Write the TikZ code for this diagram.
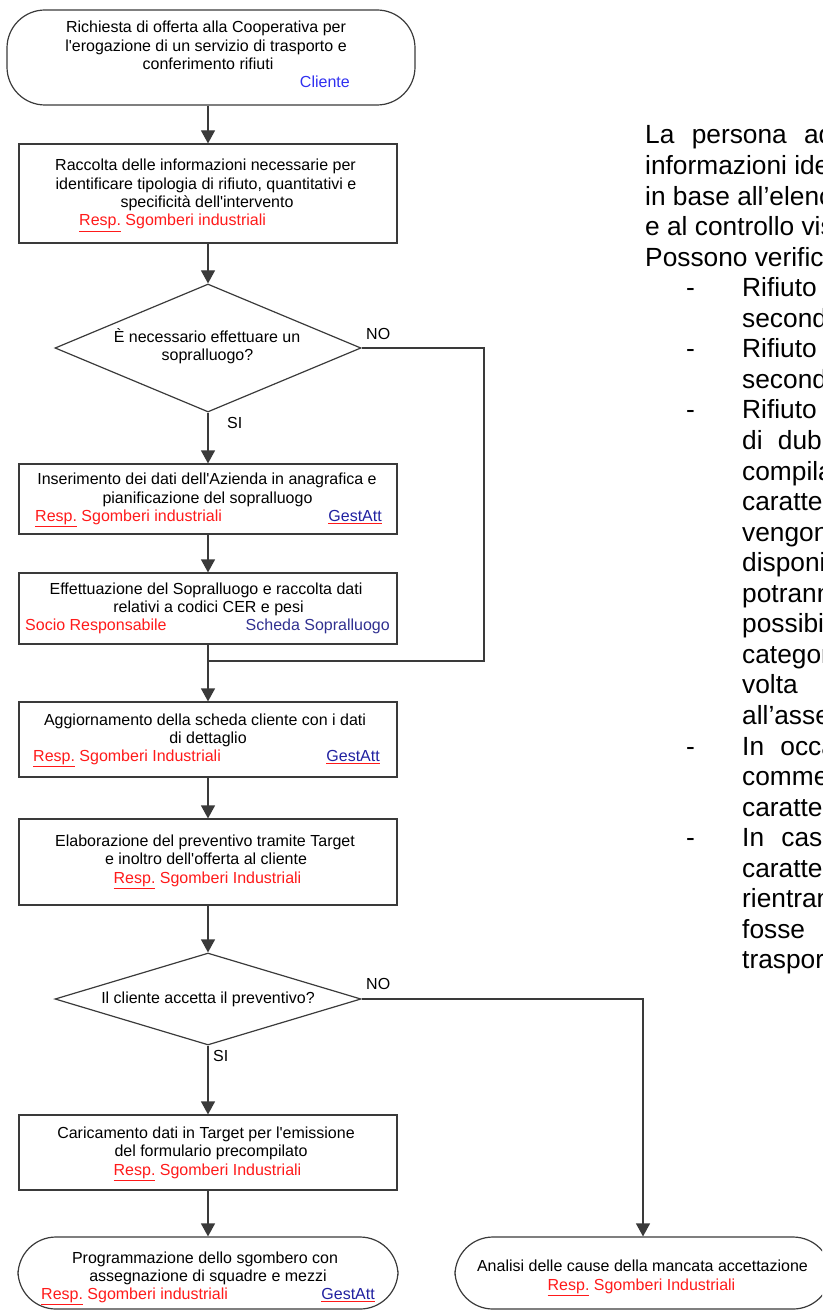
\documentclass[tikz,border=0pt]{standalone}
\usepackage{fontspec}
\setmainfont{Liberation Sans}
\usetikzlibrary{shapes.geometric,arrows.meta}
\definecolor{lnc}{HTML}{3A3A3A}
\definecolor{rred}{HTML}{FF1A1A}
\definecolor{cblu}{HTML}{3030F0}
\definecolor{gblu}{HTML}{2020A0}
\definecolor{sblu}{HTML}{303090}
\newcommand{\fsm}{\fontsize{16pt}{18.3pt}\selectfont}
\newcommand{\fbg}{\fontsize{26.3pt}{30.5pt}\selectfont}
\newcommand{\ap}{\textquotesingle}
\newcommand{\myresp}[1]{\textcolor{rred}{\underline{Resp.} #1}}
\newcommand{\mygatt}{\textcolor{rred}{\underline{\textcolor{gblu}{GestAtt}}}}
\begin{document}
\begin{tikzpicture}[x=1pt,y=-1pt,
  boxs/.style={rectangle, draw=lnc, line width=1.2pt, minimum width=378pt, inner sep=0pt},
  terms/.style={rectangle, draw=lnc, line width=1.2pt, rounded corners=38pt, inner sep=0pt},
  decs/.style={diamond, draw=lnc, line width=1.2pt, inner sep=0pt, minimum width=306pt},
  lc/.style={anchor=base, inner sep=0pt, font=\fsm},
  lw/.style={anchor=base west, inner sep=0pt, font=\fsm},
  le/.style={anchor=base east, inner sep=0pt, font=\fsm},
  arr/.style={draw=lnc, line width=1.2pt, -{Triangle[width=14pt,length=13pt]}},
  plain/.style={draw=lnc, line width=1.2pt},
  rt/.style={anchor=base west, inner sep=0pt, font=\fbg}]
\useasboundingbox (0,0) rectangle (822,1313);
\clip (0,0) rectangle (822,1313);

% shapes
\node[terms, minimum width=408pt, minimum height=95pt] (t1) at (211,57.5) {};
\node[boxs, minimum height=99pt] (b2) at (208,193.5) {};
\node[decs, minimum height=128pt] (d1) at (208,348) {};
\node[boxs, minimum height=70pt] (b3) at (208,499) {};
\node[boxs, minimum height=71pt] (b4) at (208,608.5) {};
\node[boxs, minimum height=75pt] (b5) at (208,739.5) {};
\node[boxs, minimum height=86pt] (b6) at (208,862) {};
\node[decs, minimum height=92pt] (d2) at (208,999) {};
\node[boxs, minimum height=75pt] (b7) at (208,1152.5) {};
\node[terms, minimum width=380pt, minimum height=72pt] (t2) at (208,1273) {};
\node[terms, minimum width=376pt, minimum height=72pt] (t3) at (643,1273) {};

% texts
\node[lc] (t1a) at (206,33) {Richiesta di offerta alla Cooperativa per};
\node[lc] (t1b) at (206,51.3) {l\ap erogazione di un servizio di trasporto e};
\node[lc] (t1c) at (208,69.6) {conferimento rifiuti};
\node[le] (t1r) at (350,88) {\textcolor{cblu}{Cliente}};

\node[lc] (b2a) at (205.5,171) {Raccolta delle informazioni necessarie per};
\node[lc] (b2b) at (206,189.3) {identificare tipologia di rifiuto, quantitativi e};
\node[lc] (b2c) at (207,207.6) {specificità dell\ap intervento};
\node[lw] (b2r) at (79,226) {\myresp{Sgomberi industriali}};

\node[lc] (d1a) at (207,342) {È necessario effettuare un};
\node[lc] (d1b) at (207.5,360.3) {sopralluogo?};
\node[lw] (no1) at (366,339) {NO};
\node[lw] (si1) at (227,428) {SI};

\node[lc] (b3a) at (207,484.5) {Inserimento dei dati dell\ap Azienda in anagrafica e};
\node[lc] (b3b) at (207.5,503) {pianificazione del sopralluogo};
\node[lw] (b3r) at (35,521.5) {\myresp{Sgomberi industriali}};
\node[le] (b3g) at (382,521.5) {\mygatt};

\node[lc] (b4a) at (206,594) {Effettuazione del Sopralluogo e raccolta dati};
\node[lc] (b4b) at (208.5,612.3) {relativi a codici CER e pesi};
\node[lw] (b4r) at (25,630.5) {\textcolor{rred}{Socio Responsabile}};
\node[le] (b4s) at (390,630.5) {\textcolor{sblu}{Scheda Sopralluogo}};

\node[lc] (b5a) at (205,725) {Aggiornamento della scheda cliente con i dati};
\node[lc] (b5b) at (208,743.3) {di dettaglio};
\node[lw] (b5r) at (33,761.5) {\myresp{Sgomberi Industriali}};
\node[le] (b5g) at (380,761.5) {\mygatt};

\node[lc] (b6a) at (205,846) {Elaborazione del preventivo tramite Target};
\node[lc] (b6b) at (206,864.3) {e inoltro dell\ap offerta al cliente};
\node[lc] (b6r) at (207.5,883) {\myresp{Sgomberi Industriali}};

\node[lc] (d2a) at (208,1003) {Il cliente accetta il preventivo?};
\node[lw] (no2) at (366,989) {NO};
\node[lw] (si2) at (213,1061.5) {SI};

\node[lc] (b7a) at (206,1138) {Caricamento dati in Target per l\ap emissione};
\node[lc] (b7b) at (211,1156.3) {del formulario precompilato};
\node[lc] (b7r) at (207.5,1175) {\myresp{Sgomberi Industriali}};

\node[lc] (t2a) at (205,1263) {Programmazione dello sgombero con};
\node[lc] (t2b) at (208,1281.3) {assegnazione di squadre e mezzi};
\node[lw] (t2r) at (41,1299.5) {\myresp{Sgomberi industriali}};
\node[le] (t2g) at (375,1299.5) {\mygatt};

\node[lc] (t3a) at (642.5,1271.7) {Analisi delle cause della mancata accettazione};
\node[lc] (t3r) at (641.5,1290) {\myresp{Sgomberi Industriali}};

% connectors
\draw[arr] (t1.south -| b2.north) -- (b2.north);
\draw[arr] (b2.south) -- (d1.north);
\draw[arr] (d1.south) -- (b3.north);
\draw[arr] (b3.south) -- (b4.north);
\draw[arr] (b4.south) -- (b5.north);
\draw[arr] (b5.south) -- (b6.north);
\draw[arr] (b6.south) -- (d2.north);
\draw[arr] (d2.south) -- (b7.north);
\draw[arr] (b7.south) -- (t2.north);
\coordinate (n1c) at (484,661);
\coordinate (j1) at (208,661);
\draw[plain] (d1.east) -| (n1c) -- (j1);
\draw[arr] (d2.east) -| (t3.north);

% right-hand text (clipped at the page edge, as in the reference)
\node[rt] (r1) at (645,144) {La\hspace{10pt} persona\hspace{10pt} addetta raccoglie};
\node[rt] (r2) at (645,174.55) {informazioni identificative};
\node[rt] (r3) at (645,205.1) {in base all’elenco};
\node[rt] (r4) at (645,235.65) {e al controllo visivo};
\node[rt] (r5) at (645,266.2) {Possono verificarsi};
\node[rt] (m6) at (686,296.75) {-};
\node[rt] (r6) at (742,296.75) {Rifiuto pericoloso};
\node[rt] (r7) at (742,327.3) {secondo};
\node[rt] (m8) at (686,357.85) {-};
\node[rt] (r8) at (742,357.85) {Rifiuto non};
\node[rt] (r9) at (742,388.4) {secondo};
\node[rt] (m10) at (686,418.95) {-};
\node[rt] (r10) at (742,418.95) {Rifiuto con};
\node[rt] (r11) at (742,449.5) {di\hspace{8pt} dubbio};
\node[rt] (r12) at (742,480.05) {compilare};
\node[rt] (r13) at (742,510.6) {caratterizzazione};
\node[rt] (r14) at (742,541.15) {vengono};
\node[rt] (r15) at (742,571.7) {disponibili};
\node[rt] (r16) at (742,602.25) {potranno};
\node[rt] (r17) at (742,632.8) {possibile};
\node[rt] (r18) at (742,663.35) {categoria};
\node[rt] (r19) at (742,693.9) {volta};
\node[rt] (r20) at (742,724.45) {all’assegnazione};
\node[rt] (m21) at (686,755) {-};
\node[rt] (r21) at (742,755) {In\hspace{9pt} occasione};
\node[rt] (r22) at (742,785.55) {commerciale};
\node[rt] (r23) at (742,816.1) {caratteristiche};
\node[rt] (m24) at (686,846.65) {-};
\node[rt] (r24) at (742,846.65) {In\hspace{10pt} caso};
\node[rt] (r25) at (742,877.2) {caratteristiche};
\node[rt] (r26) at (742,907.75) {rientrano};
\node[rt] (r27) at (742,938.3) {fosse};
\node[rt] (r28) at (742,968.85) {trasportato};
\end{tikzpicture}
\end{document}
